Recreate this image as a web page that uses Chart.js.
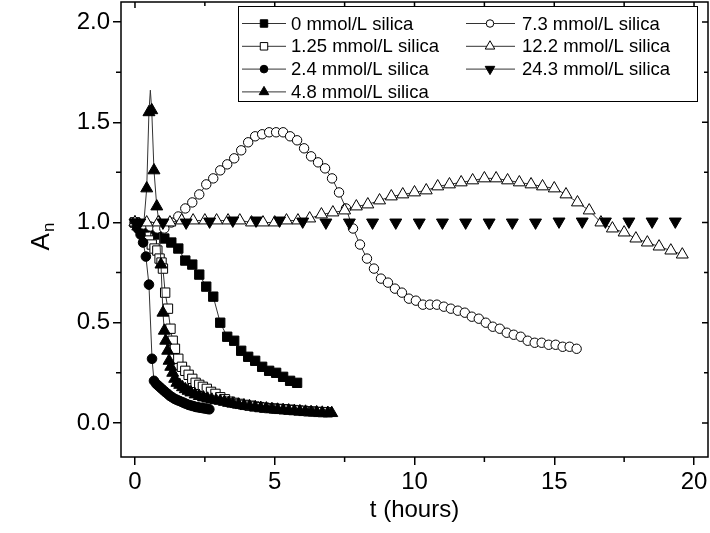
<!DOCTYPE html>
<html lang="en">
<head>
  <meta charset="UTF-8">
  <title>A_n vs time, silica series</title>
  <script src="https://cdn.jsdelivr.net/npm/chart.js"></script>
  <style>
    body { margin: 0; background: #fff; }
    #wrap { width: 710px; height: 533px; }
  </style>
</head>
<body>
  <div id="wrap"><canvas id="anChart"></canvas></div>

  <script>
    // series names, in legend order
    const seriesLabels = [
      '0 mmol/L silica', '1.25 mmol/L silica', '2.4 mmol/L silica', '4.8 mmol/L silica',
      '7.3 mmol/L silica', '12.2 mmol/L silica', '24.3 mmol/L silica'
    ];

    // axis ticks
    const xTicks = [0, 5, 10, 15, 20];
    const xMinor = [2.5, 7.5, 12.5, 17.5];
    const yTicks = [0, 0.5, 1.0, 1.5, 2.0];
    const yMinor = [0.25, 0.75, 1.25, 1.75];

    // values: t in hours, A_n
    const t00 = [0, 0.25, 0.5, 0.8, 1.05, 1.3, 1.55, 1.8, 2.05, 2.3, 2.55, 2.8, 3.05, 3.3, 3.55, 3.8, 4.05, 4.3, 4.55, 4.8, 5.05, 5.3, 5.55, 5.8];
    const a00 = [1.0, 0.98, 0.97, 0.94, 0.92, 0.90, 0.87, 0.81, 0.79, 0.74, 0.68, 0.63, 0.50, 0.43, 0.41, 0.36, 0.33, 0.31, 0.28, 0.26, 0.25, 0.23, 0.21, 0.20];

    const t125 = [0, 0.1, 0.2, 0.3, 0.4, 0.5, 0.6, 0.7, 0.8, 0.88, 0.95, 1.0, 1.08, 1.18, 1.27, 1.35, 1.43, 1.55, 1.68, 1.8, 1.92, 2.05, 2.17, 2.3, 2.43, 2.57, 2.72, 2.88, 3.05, 3.22, 3.4, 3.57, 3.75, 3.92, 4.1, 4.27, 4.45, 4.62, 4.8, 4.97, 5.15, 5.32, 5.5, 5.67, 5.85, 6.02, 6.2, 6.37, 6.55, 6.72, 6.9];
    const a125 = [1.0, 0.99, 0.97, 0.95, 0.93, 0.91, 0.89, 0.87, 0.86, 0.82, 0.80, 0.77, 0.65, 0.57, 0.47, 0.41, 0.37, 0.32, 0.28, 0.26, 0.24, 0.22, 0.20, 0.19, 0.18, 0.17, 0.155, 0.145, 0.128, 0.118, 0.106, 0.1, 0.095, 0.09, 0.086, 0.082, 0.079, 0.076, 0.074, 0.072, 0.07, 0.068, 0.066, 0.064, 0.062, 0.06, 0.058, 0.057, 0.055, 0.054, 0.053];

    const t24 = [0, 0.1, 0.2, 0.29, 0.39, 0.5, 0.61, 0.68, 0.76, 0.84, 0.92, 1.0, 1.08, 1.17, 1.25, 1.33, 1.42, 1.5, 1.58, 1.67, 1.75, 1.83, 1.92, 2.0, 2.08, 2.17, 2.25, 2.33, 2.42, 2.5, 2.58, 2.66];
    const a24 = [1.0, 0.97, 0.94, 0.90, 0.83, 0.69, 0.32, 0.21, 0.195, 0.185, 0.175, 0.165, 0.155, 0.145, 0.135, 0.128, 0.12, 0.115, 0.11, 0.105, 0.1, 0.095, 0.09, 0.087, 0.084, 0.08, 0.078, 0.076, 0.074, 0.072, 0.07, 0.068];

    const t48 = [0, 0.1, 0.2, 0.3, 0.42, 0.5, 0.55, 0.6, 0.68, 0.78, 0.86, 0.93, 1.0, 1.05, 1.1, 1.17, 1.22, 1.28, 1.35, 1.42, 1.5, 1.6, 1.7, 1.8, 1.9, 2.0, 2.15, 2.3, 2.45, 2.6, 2.75, 2.9, 3.05, 3.2, 3.35, 3.5, 3.7, 3.9, 4.1, 4.3, 4.5, 4.7, 4.9, 5.1, 5.3, 5.5, 5.7, 5.9, 6.1, 6.3, 6.5, 6.7, 6.9, 7.04];
    const a48 = [1.0, 0.98, 0.97, 0.97, 1.17, 1.55, 1.66, 1.56, 1.26, 1.08, 1.0, 0.79, 0.55, 0.46, 0.41, 0.36, 0.31, 0.28, 0.25, 0.22, 0.20, 0.19, 0.178, 0.168, 0.16, 0.152, 0.142, 0.134, 0.127, 0.121, 0.116, 0.113, 0.11, 0.105, 0.10, 0.096, 0.091, 0.087, 0.083, 0.079, 0.075, 0.072, 0.069, 0.066, 0.064, 0.062, 0.06, 0.058, 0.056, 0.054, 0.053, 0.051, 0.05, 0.049];

    const t73 = [0, 0.3, 0.55, 0.8, 1.05, 1.3, 1.55, 1.8, 2.05, 2.3, 2.55, 2.8, 3.05, 3.3, 3.55, 3.8, 4.05, 4.3, 4.55, 4.8, 5.05, 5.3, 5.55, 5.8, 6.05, 6.3, 6.55, 6.8, 7.05, 7.3, 7.55, 7.8, 8.05, 8.3, 8.55, 8.8, 9.05, 9.3, 9.55, 9.8, 10.05, 10.3, 10.55, 10.8, 11.05, 11.3, 11.55, 11.8, 12.05, 12.3, 12.55, 12.8, 13.05, 13.3, 13.55, 13.8, 14.05, 14.3, 14.55, 14.8, 15.05, 15.3, 15.55, 15.8];
    const a73 = [1.0, 0.99, 0.98, 0.97, 0.97, 1.0, 1.03, 1.07, 1.10, 1.14, 1.19, 1.22, 1.26, 1.29, 1.32, 1.36, 1.40, 1.43, 1.44, 1.45, 1.45, 1.45, 1.43, 1.41, 1.37, 1.33, 1.30, 1.27, 1.22, 1.15, 1.07, 0.97, 0.89, 0.82, 0.77, 0.72, 0.70, 0.67, 0.65, 0.62, 0.61, 0.59, 0.59, 0.59, 0.58, 0.57, 0.56, 0.55, 0.53, 0.52, 0.50, 0.48, 0.47, 0.45, 0.44, 0.43, 0.41, 0.40, 0.40, 0.39, 0.39, 0.38, 0.38, 0.37];

    const t122 = [0, 0.42, 0.83, 1.25, 1.67, 2.08, 2.5, 2.92, 3.33, 3.75, 4.17, 4.58, 5.0, 5.42, 5.83, 6.25, 6.67, 7.08, 7.5, 7.92, 8.33, 8.75, 9.17, 9.58, 10.0, 10.42, 10.83, 11.25, 11.67, 12.08, 12.5, 12.92, 13.33, 13.75, 14.17, 14.58, 15.0, 15.42, 15.83, 16.25, 16.67, 17.08, 17.5, 17.92, 18.33, 18.75, 19.17, 19.58];
    const a122 = [1.0, 1.0, 1.0, 1.0, 1.01, 1.01, 1.01, 1.01, 1.01, 1.01, 1.0, 1.0, 1.0, 1.01, 1.01, 1.02, 1.04, 1.05, 1.06, 1.08, 1.09, 1.11, 1.13, 1.14, 1.15, 1.16, 1.18, 1.19, 1.20, 1.21, 1.22, 1.22, 1.21, 1.20, 1.19, 1.18, 1.17, 1.14, 1.10, 1.06, 1.00, 0.97, 0.95, 0.92, 0.90, 0.88, 0.86, 0.84];

    const t243 = [0, 0.17, 1.0, 1.83, 2.67, 3.5, 4.33, 5.17, 6.0, 6.83, 7.67, 8.5, 9.33, 10.17, 11.0, 11.83, 12.67, 13.5, 14.33, 15.17, 16.0, 16.83, 17.67, 18.5, 19.33];
    const a243 = [1.0, 1.0, 1.0, 1.0, 1.005, 1.01, 1.01, 1.01, 1.005, 1.0, 1.0, 1.0, 1.0, 1.0, 1.0, 1.0, 1.0, 1.0, 1.0, 1.005, 1.005, 1.005, 1.005, 1.005, 1.005];

    const FONT = "'Liberation Sans', Arial, Helvetica, sans-serif";

    function pts(t, a) {
      return t.map((x, i) => ({ x: x, y: a[i] }));
    }

    // symbol per series: filled/open, shape, size
    const symbols = [
      { style: 'rect', fill: '#000', r: 6.6, rot: 0, line: true },
      { style: 'rect', fill: '#fff', r: 6.6, rot: 0, line: true },
      { style: 'circle', fill: '#000', r: 4.8, rot: 0, line: true },
      { style: 'triangle', fill: '#000', r: 6.9, rot: 0, line: true },
      { style: 'circle', fill: '#fff', r: 4.7, rot: 0, line: true },
      { style: 'triangle', fill: '#fff', r: 6.9, rot: 0, line: true },
      { style: 'triangle', fill: '#000', r: 6.9, rot: 180, line: false }
    ];

    const seriesData = [pts(t00, a00), pts(t125, a125), pts(t24, a24), pts(t48, a48),
                        pts(t73, a73), pts(t122, a122), pts(t243, a243)];

    const datasets = seriesData.map((d, i) => {
      const s = symbols[i];
      return {
        label: seriesLabels[i],
        data: d,
        showLine: s.line,
        borderColor: '#333',
        borderWidth: 1,
        pointStyle: s.style,
        pointRotation: s.rot,
        // the 4.8 curve peaks above its markers: that point has no symbol
        pointRadius: (c) => (i === 3 && c.raw && c.raw.y > 1.6 ? 0 : s.r),
        pointBackgroundColor: s.fill,
        pointBorderColor: '#000',
        pointBorderWidth: 1,
        order: -i
      };
    });

    // box, minor ticks and ticks on top/right
    const frame = {
      id: 'frame',
      afterDraw(chart) {
        const { ctx, chartArea: a, scales: { x, y } } = chart;
        ctx.save();
        ctx.strokeStyle = '#000';
        ctx.lineWidth = 1.5;
        ctx.strokeRect(a.left, a.top, a.right - a.left, a.bottom - a.top);
        ctx.beginPath();
        xTicks.forEach(v => {
          const px = x.getPixelForValue(v);
          ctx.moveTo(px, a.top); ctx.lineTo(px, a.top + 6);
        });
        xMinor.forEach(v => {
          const px = x.getPixelForValue(v);
          ctx.moveTo(px, a.bottom); ctx.lineTo(px, a.bottom + 5);
          ctx.moveTo(px, a.top); ctx.lineTo(px, a.top + 4);
        });
        yTicks.forEach(v => {
          const py = y.getPixelForValue(v);
          ctx.moveTo(a.right, py); ctx.lineTo(a.right - 6, py);
        });
        yMinor.forEach(v => {
          const py = y.getPixelForValue(v);
          ctx.moveTo(a.left, py); ctx.lineTo(a.left - 5, py);
          ctx.moveTo(a.right, py); ctx.lineTo(a.right - 4, py);
        });
        ctx.stroke();
        ctx.restore();
      }
    };

    // A with subscript n, rotated
    const yTitle = {
      id: 'yTitle',
      afterDraw(chart) {
        const ctx = chart.ctx;
        ctx.save();
        ctx.translate(49, 237);
        ctx.rotate(-Math.PI / 2);
        ctx.fillStyle = '#000';
        ctx.textBaseline = 'alphabetic';
        ctx.textAlign = 'left';
        ctx.font = '26px ' + FONT;
        const wA = ctx.measureText('A').width;
        ctx.font = '17px ' + FONT;
        const wn = ctx.measureText('n').width;
        const x0 = -(wA + wn) / 2;
        ctx.font = '26px ' + FONT;
        ctx.fillText('A', x0, 0);
        ctx.font = '17px ' + FONT;
        ctx.fillText('n', x0 + wA + 1, 5);
        ctx.restore();
      }
    };

    // two-column legend inside the plot
    const boxLegend = {
      id: 'boxLegend',
      afterDraw(chart) {
        const ctx = chart.ctx;
        const cols = [
          { l1: 242, l2: 286, mk: 264, tx: 291 },
          { l1: 466, l2: 515, mk: 490, tx: 522 }
        ];
        ctx.save();
        ctx.fillStyle = '#fff';
        ctx.fillRect(238.5, 6.5, 459, 95);
        ctx.strokeStyle = '#000';
        ctx.lineWidth = 1;
        ctx.strokeRect(238.5, 6.5, 459, 95);
        ctx.font = '18.5px ' + FONT;
        ctx.textBaseline = 'middle';
        ctx.textAlign = 'left';
        seriesLabels.forEach((lab, i) => {
          const c = cols[i < 4 ? 0 : 1];
          const row = i < 4 ? i : i - 4;
          const y = 23.5 + row * 22.8;
          const s = symbols[i];
          ctx.strokeStyle = '#333';
          ctx.lineWidth = 1;
          ctx.beginPath();
          ctx.moveTo(c.l1, y); ctx.lineTo(c.l2, y);
          ctx.stroke();
          ctx.fillStyle = s.fill;
          ctx.strokeStyle = '#000';
          Chart.helpers.drawPoint(ctx, {
            pointStyle: s.style, rotation: s.rot, radius: s.r * 0.8, borderWidth: 1
          }, c.mk, y);
          ctx.fillStyle = '#000';
          ctx.fillText(lab, c.tx, y + 1);
        });
        ctx.restore();
      }
    };

    new Chart(document.getElementById('anChart'), {
      type: 'scatter',
      data: { datasets: datasets },
      plugins: [frame, yTitle, boxLegend],
      options: {
        responsive: true,
        maintainAspectRatio: false,
        animation: false,
        layout: { autoPadding: false, padding: { top: 2, right: 2, left: 0, bottom: 0 } },
        plugins: { legend: { display: false }, tooltip: { enabled: false } },
        scales: {
          x: {
            type: 'linear',
            min: -0.5,
            max: 20.5,
            afterBuildTicks: s => { s.ticks = xTicks.map(v => ({ value: v })); },
            afterFit: s => { s.height = 76; s.paddingLeft = 0; s.paddingRight = 0; },
            ticks: { color: '#000', font: { family: FONT, size: 24 }, padding: 3, maxRotation: 0,
                     callback: v => String(v) },
            grid: { drawOnChartArea: false, tickLength: 8, color: '#000', lineWidth: 1.5 },
            border: { display: false },
            title: { display: true, text: 't (hours)', color: '#000',
                     font: { family: FONT, size: 24 }, padding: { top: 0, bottom: 8 } }
          },
          y: {
            type: 'linear',
            min: -0.17,
            max: 2.1,
            afterBuildTicks: s => { s.ticks = yTicks.map(v => ({ value: v })); },
            afterFit: s => { s.width = 121; s.paddingTop = 0; s.paddingBottom = 0; },
            ticks: { color: '#000', font: { family: FONT, size: 24 }, padding: 3,
                     callback: v => v.toFixed(1) },
            grid: { drawOnChartArea: false, tickLength: 8, color: '#000', lineWidth: 1.5 },
            border: { display: false }
          }
        }
      }
    });
  </script>
</body>
</html>
